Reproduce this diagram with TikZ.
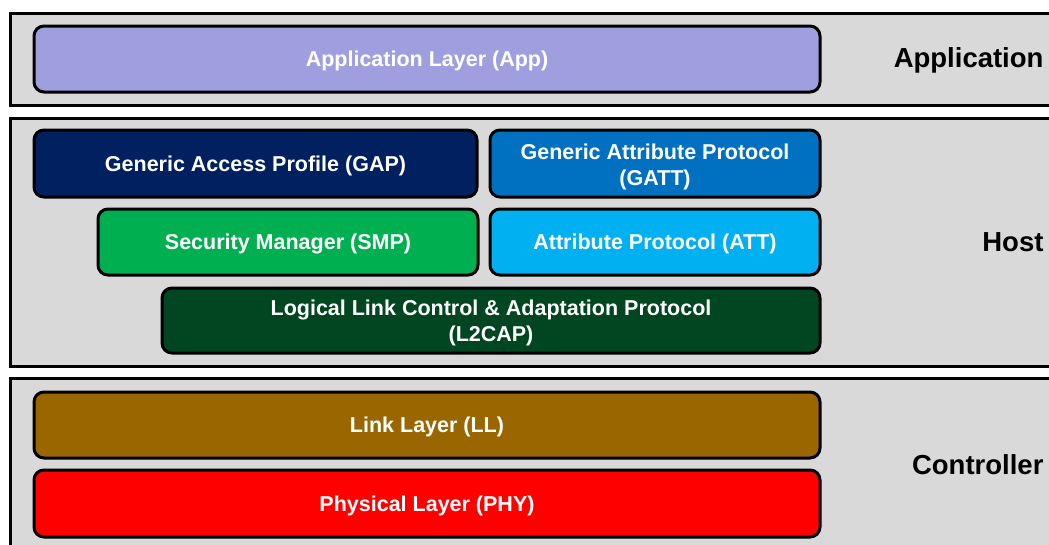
\documentclass[tikz,border=0pt]{standalone}
\usepackage{fontspec}
\setmainfont{Liberation Sans}
\definecolor{outerfill}{HTML}{D9D9D9}
\definecolor{appc}{HTML}{9F9FDF}
\definecolor{gapc}{HTML}{002060}
\definecolor{gattc}{HTML}{0070C0}
\definecolor{smpc}{HTML}{00B050}
\definecolor{attc}{HTML}{00B0F0}
\definecolor{l2capc}{HTML}{004620}
\definecolor{llc}{HTML}{996600}
\definecolor{phyc}{HTML}{FF0000}
\tikzset{
  outerbox/.style={draw=black, line width=3pt, fill=outerfill},
  layerbox/.style={draw=black, line width=3pt, rounded corners=10pt, text=white,
    font=\bfseries\fontsize{21.5}{26}\selectfont, align=center, inner sep=0pt},
  onelinebox/.style={layerbox, execute at begin node={\rule{0pt}{19.7pt}}},
  grouplabel/.style={font=\bfseries\fontsize{27.5}{32}\selectfont, anchor=east, text=black}
}
\begin{document}
\begin{tikzpicture}[x=1pt,y=-1pt]
\useasboundingbox (0,0) rectangle (1049,544);
\clip (0,0) rectangle (1049,544);
% outer groups
\draw[outerbox] (10,13) rectangle (1065,105);
\draw[outerbox] (10,118) rectangle (1065,366);
\draw[outerbox] (10,378) rectangle (1065,570);
% application
\node[onelinebox, fill=appc, minimum width=786pt, minimum height=66pt] (app) at (427,59) {Application Layer (App)};
% host
\node[onelinebox, fill=gapc, minimum width=443pt, minimum height=67pt] (gap) at (255.5,163.5) {Generic Access Profile (GAP)};
\node[layerbox, fill=gattc, minimum width=330pt, minimum height=67pt] (gatt) at (655,163.5) {\rule{0pt}{21.7pt}Generic Attribute Protocol\\(GATT)};
\node[onelinebox, fill=smpc, minimum width=380pt, minimum height=66pt] (smp) at (288,242) {Security Manager (SMP)};
\node[onelinebox, fill=attc, minimum width=330pt, minimum height=66pt] (att) at (655,242) {Attribute Protocol (ATT)};
\node[layerbox, fill=l2capc, minimum width=658pt, minimum height=65pt] (l2cap) at (491,320.5) {\rule{0pt}{19.7pt}Logical Link Control \& Adaptation Protocol\\(L2CAP)};
% controller
\node[onelinebox, fill=llc, minimum width=786pt, minimum height=66pt] (ll) at (427,425) {Link Layer (LL)};
\node[onelinebox, fill=phyc, minimum width=786pt, minimum height=67pt] (phy) at (427,503.5) {Physical Layer (PHY)};
% group labels
\node[grouplabel] (lapp) at (1047,60) {Application};
\node[grouplabel] (lhost) at (1047,242) {Host};
\node[grouplabel] (lctrl) at (1047,465) {Controller};
\end{tikzpicture}
\end{document}
